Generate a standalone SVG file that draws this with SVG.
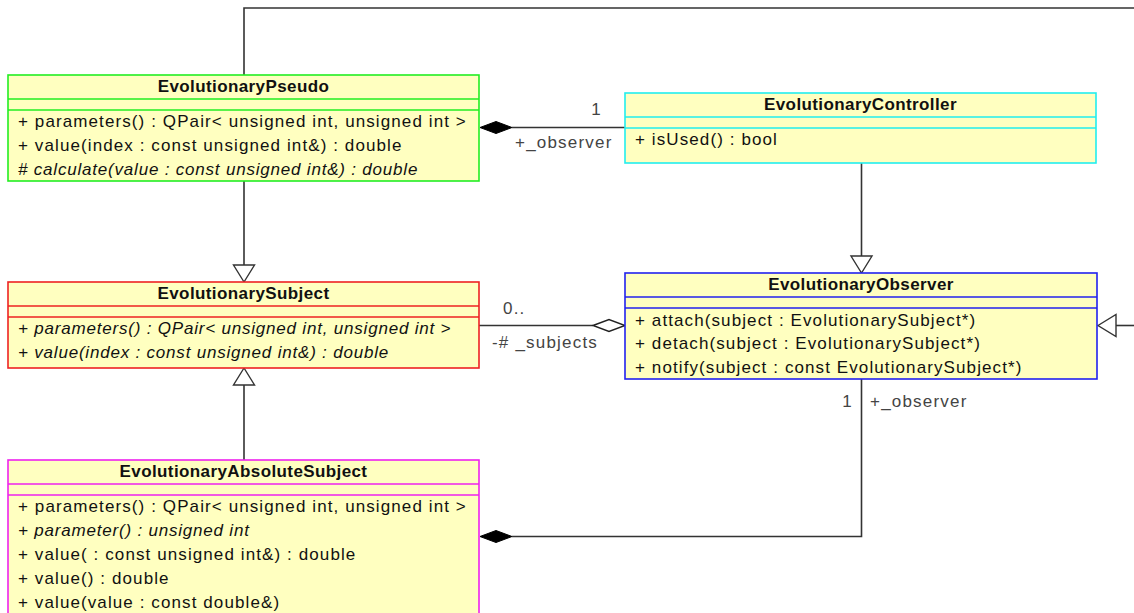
<svg xmlns="http://www.w3.org/2000/svg" width="1134" height="613" viewBox="0 0 1134 613">
  <style>
    .box { fill: #ffffc0; stroke-width: 1.6; }
    .sep { stroke-width: 1.6; }
    .title { font-family: "Liberation Sans", Arial, sans-serif; font-size: 17px; font-weight: bold; fill: #111; text-anchor: middle; letter-spacing: 0.4px; }
    .op { font-family: "Liberation Sans", Arial, sans-serif; font-size: 17px; fill: #111; letter-spacing: 1.1px; }
    .it { font-style: italic; letter-spacing: 0.8px; }
    .lbl { font-family: "Liberation Sans", Arial, sans-serif; font-size: 17px; fill: #444; letter-spacing: 1.2px; }
    .edge { fill: none; stroke: #333; stroke-width: 1.6; }
    .gen { fill: #fff; stroke: #333; stroke-width: 1.4; }
    .comp { fill: #000; stroke: #000; stroke-width: 1; }
    .agg { fill: #fff; stroke: #222; stroke-width: 1.4; }
  </style>

  <!-- connectors -->
  <g id="connectors">
    <!-- EvolutionaryPseudo realises the observer interface (line runs off to the right) -->
    <path class="edge" d="M244,75 V8 H1134" stroke="#000"/>
    <path class="edge" d="M1134,325.5 H1116"/>
    <polygon class="gen" points="1098,325.5 1116,314.5 1116,336.5"/>

    <!-- EvolutionaryPseudo -> EvolutionarySubject -->
    <path class="edge" d="M244,181 V265"/>
    <polygon class="gen" points="244,282 233.5,265 254.5,265"/>

    <!-- EvolutionaryAbsoluteSubject -> EvolutionarySubject -->
    <path class="edge" d="M244,460 V385"/>
    <polygon class="gen" points="244,368 233.5,385 254.5,385"/>

    <!-- EvolutionaryController -> EvolutionaryObserver -->
    <path class="edge" d="M861.5,163 V256"/>
    <polygon class="gen" points="861.5,273 851,256 872,256"/>

    <!-- controller composed into pseudo -->
    <path class="edge" d="M512,127.5 H625"/>
    <polygon class="comp" points="480,127.5 496,121.5 512,127.5 496,133.5"/>
    <text class="lbl" x="602" y="115" text-anchor="end">1</text>
    <text class="lbl" x="515" y="148">+_observer</text>

    <!-- subjects aggregated by observer -->
    <path class="edge" d="M479,325.5 H593"/>
    <polygon class="agg" points="593,325.5 609,319.5 625,325.5 609,331.5"/>
    <text class="lbl" x="503" y="314">0..</text>
    <text class="lbl" x="492" y="348">-# _subjects</text>

    <!-- observer composed into absolute subject -->
    <path class="edge" d="M861.5,379 V536.5 H512"/>
    <polygon class="comp" points="480,536.5 496,530.5 512,536.5 496,542.5"/>
    <text class="lbl" x="853" y="407" text-anchor="end">1</text>
    <text class="lbl" x="870" y="407">+_observer</text>
  </g>

  <!-- EvolutionaryPseudo -->
  <g id="EvolutionaryPseudo" stroke="#22ee22">
    <rect class="box" x="8" y="75" width="471" height="106"/>
    <line class="sep" x1="8" y1="99" x2="479" y2="99"/>
    <line class="sep" x1="8" y1="110" x2="479" y2="110"/>
    <g stroke="none">
      <text class="title" x="243.5" y="92">EvolutionaryPseudo</text>
      <text class="op" x="18" y="127">+ parameters() : QPair&lt; unsigned int, unsigned int &gt;</text>
      <text class="op" x="18" y="151">+ value(index : const unsigned int&amp;) : double</text>
      <text class="op it" x="18" y="175"># calculate(value : const unsigned int&amp;) : double</text>
    </g>
  </g>

  <!-- EvolutionaryController -->
  <g id="EvolutionaryController" stroke="#22eeee">
    <rect class="box" x="625" y="93" width="471" height="70"/>
    <line class="sep" x1="625" y1="117" x2="1096" y2="117"/>
    <line class="sep" x1="625" y1="128" x2="1096" y2="128"/>
    <g stroke="none">
      <text class="title" x="860.5" y="110">EvolutionaryController</text>
      <text class="op" x="635" y="145">+ isUsed() : bool</text>
    </g>
  </g>

  <!-- EvolutionarySubject -->
  <g id="EvolutionarySubject" stroke="#ee2222">
    <rect class="box" x="8" y="282" width="471" height="86"/>
    <line class="sep" x1="8" y1="306" x2="479" y2="306"/>
    <line class="sep" x1="8" y1="317" x2="479" y2="317"/>
    <g stroke="none">
      <text class="title" x="243.5" y="299">EvolutionarySubject</text>
      <text class="op it" x="18" y="334">+ parameters() : QPair&lt; unsigned int, unsigned int &gt;</text>
      <text class="op it" x="18" y="358">+ value(index : const unsigned int&amp;) : double</text>
    </g>
  </g>

  <!-- EvolutionaryObserver -->
  <g id="EvolutionaryObserver" stroke="#2222ee">
    <rect class="box" x="625" y="273" width="472" height="106"/>
    <line class="sep" x1="625" y1="297" x2="1097" y2="297"/>
    <line class="sep" x1="625" y1="308" x2="1097" y2="308"/>
    <g stroke="none">
      <text class="title" x="861" y="290">EvolutionaryObserver</text>
      <text class="op" x="635" y="326">+ attach(subject : EvolutionarySubject*)</text>
      <text class="op" x="635" y="349">+ detach(subject : EvolutionarySubject*)</text>
      <text class="op" x="635" y="373">+ notify(subject : const EvolutionarySubject*)</text>
    </g>
  </g>

  <!-- EvolutionaryAbsoluteSubject -->
  <g id="EvolutionaryAbsoluteSubject" stroke="#ee22ee">
    <rect class="box" x="8" y="460" width="471" height="170"/>
    <line class="sep" x1="8" y1="484" x2="479" y2="484"/>
    <line class="sep" x1="8" y1="495" x2="479" y2="495"/>
    <g stroke="none">
      <text class="title" x="243.5" y="477">EvolutionaryAbsoluteSubject</text>
      <text class="op" x="18" y="512">+ parameters() : QPair&lt; unsigned int, unsigned int &gt;</text>
      <text class="op it" x="18" y="536">+ parameter() : unsigned int</text>
      <text class="op" x="18" y="560">+ value( : const unsigned int&amp;) : double</text>
      <text class="op" x="18" y="584">+ value() : double</text>
      <text class="op" x="18" y="608">+ value(value : const double&amp;)</text>
    </g>
  </g>
</svg>
